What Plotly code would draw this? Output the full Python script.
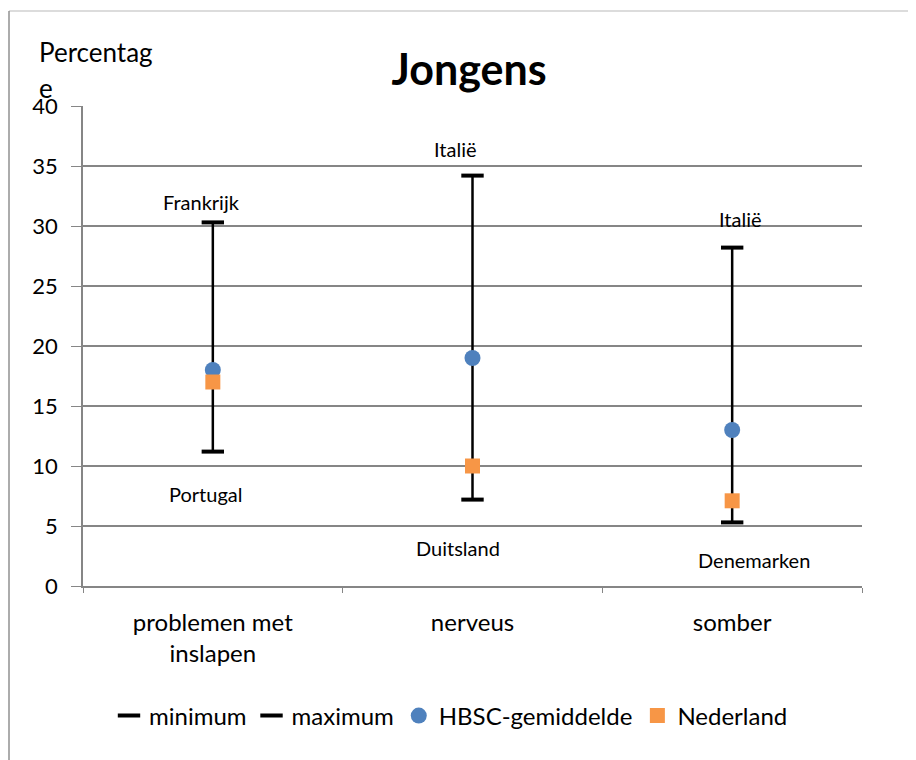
import plotly.graph_objects as go

# data
categories = ["problemen met<br>inslapen", "nerveus", "somber"]
minimum = [11.2, 7.2, 5.3]
maximum = [30.3, 34.2, 28.2]
hbsc_mean = [18.0, 19.0, 13.0]
nederland = [17.0, 10.0, 7.1]
max_countries = ["Frankrijk", "Italië", "Italië"]
min_countries = ["Portugal", "Duitsland", "Denemarken"]

FONT = "Lato"
W, H = 916, 760
# de pagina heeft 8px body-marge, dus alles 8px terug
L, R, T, B = 75, 62, 98, 182
pw, ph = W - L - R, H - T - B


def px_x(x):  # figuur-pixel -> paper x
    return (x - L) / pw


def px_y(y):  # figuur-pixel -> paper y
    return (H - B - y) / ph


fig = go.Figure()

# high-low lijnen
hl_x, hl_y = [], []
for c, lo, hi in zip(categories, minimum, maximum):
    hl_x += [c, c, None]
    hl_y += [lo, hi, None]
fig.add_trace(go.Scatter(x=hl_x, y=hl_y, mode="lines", line=dict(color="black", width=2.5),
                         showlegend=False, hoverinfo="skip"))

dash = dict(symbol="line-ew", size=16, line=dict(color="black", width=4))
fig.add_trace(go.Scatter(x=categories, y=minimum, mode="markers", name="minimum", marker=dash))
fig.add_trace(go.Scatter(x=categories, y=maximum, mode="markers", name="maximum", marker=dash))
fig.add_trace(go.Scatter(x=categories, y=hbsc_mean, mode="markers", name="HBSC-gemiddelde",
                         marker=dict(symbol="circle", size=16, color="#4F81BD")))
fig.add_trace(go.Scatter(x=categories, y=nederland, mode="markers", name="Nederland",
                         marker=dict(symbol="square", size=15, color="#F79646")))

# landnamen bij max/min
max_shift = [(-11, 20), (-17, 27), (8, 29)]
min_shift = [(-7, -42), (-15, -48), (22, -38)]
for c, v, name, (dx, dy) in zip(categories, maximum, max_countries, max_shift):
    fig.add_annotation(x=c, y=v, text=name, showarrow=False, xshift=dx, yshift=dy,
                       font=dict(family=FONT, size=20, color="black"))
for c, v, name, (dx, dy) in zip(categories, minimum, min_countries, min_shift):
    fig.add_annotation(x=c, y=v, text=name, showarrow=False, xshift=dx, yshift=dy,
                       font=dict(family=FONT, size=20, color="black"))

# y-as titel, zoals in Excel afgebroken
fig.add_annotation(xref="paper", yref="paper", x=px_x(29), y=px_y(44), xanchor="left", yanchor="middle",
                   text="Percentag", showarrow=False, font=dict(family=FONT, size=26, color="black"))
fig.add_annotation(xref="paper", yref="paper", x=px_x(29), y=px_y(80), xanchor="left", yanchor="middle",
                   text="e", showarrow=False, font=dict(family=FONT, size=26, color="black"))

# kader van de grafiek
fig.add_shape(type="line", xref="paper", yref="paper", x0=px_x(1), x1=px_x(916), y0=px_y(3), y1=px_y(3),
              line=dict(color="#D0D0D0", width=1.5))
fig.add_shape(type="line", xref="paper", yref="paper", x0=px_x(1), x1=px_x(1), y0=px_y(3), y1=px_y(760),
              line=dict(color="#909090", width=1.5))

fig.update_layout(
    width=W, height=H,
    margin=dict(l=L, r=R, t=T, b=B),
    plot_bgcolor="white", paper_bgcolor="white",
    font=dict(family=FONT, size=22, color="black"),
    title=dict(text="<b>Jongens</b>", x=461 / W, xanchor="center", y=1 - 62 / H, yanchor="middle",
               font=dict(family=FONT, size=43, color="black")),
    legend=dict(orientation="h", x=px_x(443), xanchor="center", y=px_y(708), yanchor="middle",
                font=dict(family=FONT, size=24), itemsizing="trace", itemwidth=30),
    showlegend=True,
)
fig.update_xaxes(type="category", range=[-0.5, 2.5], tickson="boundaries", ticks="outside", ticklen=5,
                 tickcolor="#868686", showline=True, linecolor="#868686", linewidth=1.5, showgrid=False,
                 ticklabelstandoff=14, tickfont=dict(family=FONT, size=24), automargin=False)
fig.update_yaxes(range=[0, 40], dtick=5, ticks="outside", ticklen=10, tickcolor="#868686",
                 showline=True, linecolor="#868686", linewidth=1.5,
                 showgrid=True, gridcolor="#868686", gridwidth=1.5, zeroline=False,
                 ticklabelstandoff=9, tickfont=dict(family=FONT, size=22), automargin=False)

fig.write_html("out.html")
